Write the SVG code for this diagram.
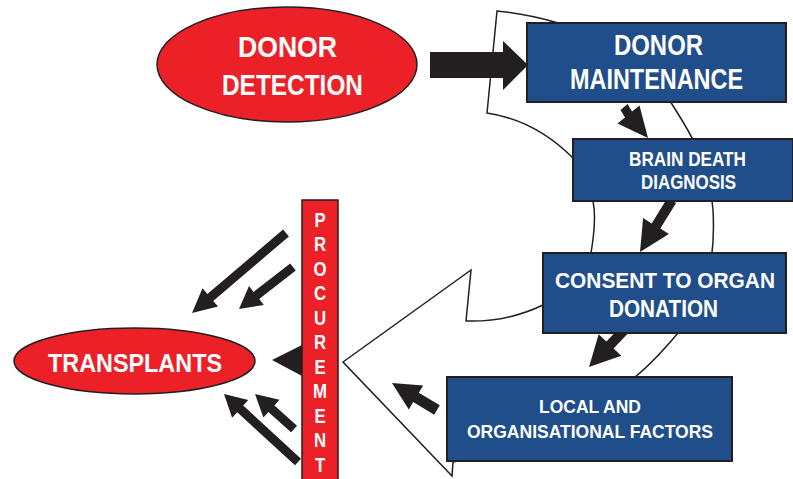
<svg xmlns="http://www.w3.org/2000/svg" width="793" height="479" viewBox="0 0 793 479">
<defs>
<style>
.red{fill:#ec2027;stroke:#231f20;stroke-width:1.5}
.box{fill:#1f4e8b;stroke:#231f20;stroke-width:2}
.arr{fill:#231f20;stroke:none}
.band{fill:#ffffff;stroke:#231f20;stroke-width:1.5;stroke-linejoin:miter}
.t{fill:#ffffff;font-family:"Liberation Sans",Arial,sans-serif;font-weight:bold;text-anchor:middle}
</style>
</defs>
<rect width="793" height="479" fill="#ffffff"/>
<g id="cycle-band">
<path class="band" d="M497,11 Q528,14 558,23 C610,40 650,70 670,101 C685,125 710,160 713,210 C716,265 705,300 678,333 C662,352 650,365 635,377 C590,420 520,450 453,462 L452,476 L343,362 L471,270 L466,321 C495,322 520,316 543,305 C575,290 590,275 591,253 C594,235 596,215 593,201 C590,185 582,168 573,158 C550,135 520,118 487,113 Z"/>
</g>
<g id="connectors">
<polygon class="arr" points="430,52 503,52 503,41 528,65 503,90 503,78 430,78"/>
<polygon class="arr" points="620.5,109.9 625,117.4 617.5,123.6 648,138 639.5,105.4 632,111.6 627.5,104.1"/>
<polygon class="arr" points="667.5,197.8 651.7,223.4 643.1,218 640,252 668.9,234 660.3,228.6 676.1,203"/>
<polygon class="arr" points="620.2,327.1 606.4,341.6 598.7,334.2 589,367 621.3,355.8 613.6,348.5 627.4,334"/>
<polygon class="arr" points="439.8,405.3 418.8,392.7 423.2,385.4 392,383 408.8,409.4 413.2,402.1 434.2,414.7"/>
<polygon class="arr" points="272,360 302,345 302,376"/>
<polygon class="arr" points="283.1,229.6 207.4,294 202.5,288.3 192,313 218.1,306.6 213.2,300.9 288.9,236.4"/>
<polygon class="arr" points="290.2,263.4 253.6,291.9 249,286 239,309 263.8,305 259.2,299 295.8,270.6"/>
<polygon class="arr" points="301,458.7 243.2,405.6 248.3,400.1 224,394 232.1,417.7 237.2,412.2 295,465.3"/>
<polygon class="arr" points="297,425.7 274.4,405.4 279.4,399.8 255,394 263.4,417.6 268.4,412 291,432.3"/>
</g>
<g id="donor-detection">
<ellipse class="red" cx="287" cy="64.5" rx="130" ry="57.5"/>
<text class="t" x="287.5" y="57" font-size="30" textLength="99" lengthAdjust="spacingAndGlyphs">DONOR</text>
<text class="t" x="292.5" y="95" font-size="30" textLength="141" lengthAdjust="spacingAndGlyphs">DETECTION</text>
</g>
<g id="donor-maintenance">
<rect class="box" x="527" y="23" width="259" height="79"/>
<text class="t" x="658.5" y="55" font-size="29" textLength="89" lengthAdjust="spacingAndGlyphs">DONOR</text>
<text class="t" x="656.5" y="89" font-size="29" textLength="173" lengthAdjust="spacingAndGlyphs">MAINTENANCE</text>
</g>
<g id="brain-death-diagnosis">
<rect class="box" x="573" y="139" width="220" height="62"/>
<text class="t" x="687.5" y="166" font-size="19.5" textLength="117" lengthAdjust="spacingAndGlyphs">BRAIN DEATH</text>
<text class="t" x="688.5" y="189" font-size="19.5" textLength="95" lengthAdjust="spacingAndGlyphs">DIAGNOSIS</text>
</g>
<g id="consent">
<rect class="box" x="543" y="253" width="243" height="80"/>
<text class="t" x="665" y="288" font-size="22" textLength="220" lengthAdjust="spacingAndGlyphs">CONSENT TO ORGAN</text>
<text class="t" x="663.5" y="317" font-size="23" textLength="109" lengthAdjust="spacingAndGlyphs">DONATION</text>
</g>
<g id="local-factors">
<rect class="box" x="447" y="377" width="285" height="84"/>
<text class="t" x="590" y="413" font-size="18" textLength="102" lengthAdjust="spacingAndGlyphs">LOCAL AND</text>
<text class="t" x="590" y="438" font-size="18" textLength="246" lengthAdjust="spacingAndGlyphs">ORGANISATIONAL FACTORS</text>
</g>
<g id="procurement">
<rect class="red" x="302" y="200" width="36" height="290"/>
<g transform="translate(320,0) scale(0.8,1)">
<text class="t" font-size="21"><tspan x="0" y="227">P</tspan><tspan x="0" y="251.5">R</tspan><tspan x="0" y="276">O</tspan><tspan x="0" y="300.5">C</tspan><tspan x="0" y="325">U</tspan><tspan x="0" y="349.5">R</tspan><tspan x="0" y="374">E</tspan><tspan x="0" y="398.5">M</tspan><tspan x="0" y="423">E</tspan><tspan x="0" y="447.5">N</tspan><tspan x="0" y="472">T</tspan></text>
</g>
</g>
<g id="transplants">
<ellipse class="red" cx="134.5" cy="361" rx="120.5" ry="33"/>
<text class="t" x="135" y="372" font-size="26" textLength="174" lengthAdjust="spacingAndGlyphs">TRANSPLANTS</text>
</g>
</svg>
